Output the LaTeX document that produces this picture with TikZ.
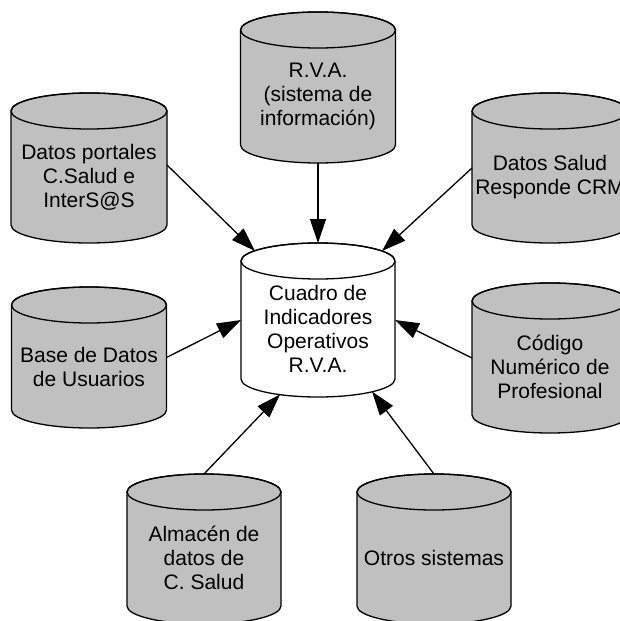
\documentclass[tikz,border=0pt]{standalone}
\usepackage{fontspec}
\setmainfont{Liberation Sans}
\usetikzlibrary{arrows.meta,calc}
\definecolor{dbgray}{RGB}{192,192,192}
\tikzset{
  cylline/.style={draw=black, line width=1.3pt},
  lbl/.style={align=center, font=\fontsize{21}{24}\selectfont, inner sep=0pt},
  anchorbox/.style={rectangle, inner sep=0pt, outer sep=0pt, draw=none},
  feed/.style={line width=1.3pt, -{Triangle[length=24pt,width=16pt]}},
}
% #1 name, #2 centre x, #3 top y, #4 width, #5 height, #6 fill, #7 text
\newcommand\dbcyl[7]{%
  \filldraw[cylline, fill=#6] ({#2-#4/2},{-(#3+18)}) -- ({#2-#4/2},{-(#3+#5-18)})
    arc[start angle=180, end angle=360, x radius={#4/2}, y radius=18]
    -- ({#2+#4/2},{-(#3+18)})
    arc[start angle=0, end angle=180, x radius={#4/2}, y radius=18] -- cycle;
  \draw[cylline] (#2,{-(#3+18)}) ellipse[x radius={#4/2}, y radius=18];
  \node[anchorbox, minimum width=#4pt, minimum height=#5pt] (#1) at (#2,{-(#3+#5/2)}) {};
  \node[lbl] (#1-t) at (#2,{-(#3+(#5+18)/2)}) {#7};
}
\begin{document}
\begin{tikzpicture}[x=1pt,y=1pt]
  \useasboundingbox (0,0) rectangle (620,-621);
  \clip (0,0) rectangle (620,-621);
  \dbcyl{tl}{89}{93}{156}{150}{dbgray}{Datos portales\\C.Salud e\\InterS@S}
  \dbcyl{top}{318}{12}{155}{151}{dbgray}{R.V.A.\\(sistema de\\información)}
  \dbcyl{tr}{550}{93}{156}{150}{dbgray}{Datos Salud\\Responde CRM}
  \dbcyl{lm}{89}{287}{155}{141}{dbgray}{Base de Datos\\de Usuarios}
  \dbcyl{c}{318}{243}{154}{154}{white}{Cuadro de\\Indicadores\\Operativos\\R.V.A.}
  \dbcyl{rm}{550}{283}{156}{150}{dbgray}{Código\\Numérico de\\Profesional}
  \dbcyl{bl}{204}{474}{154}{150}{dbgray}{Almacén de\\datos de\\C. Salud}
  \dbcyl{br}{434}{474}{154}{150}{dbgray}{Otros sistemas}
  \draw[feed] ([yshift=3pt]tl.east) -- ([xshift=14pt,yshift=-8pt]c.north west);
  \draw[feed] (top.south) -- (c.north);
  \draw[feed] (tr.west) -- ([xshift=-13pt,yshift=-8pt]c.north east);
  \draw[feed] (lm.east) -- (c.west);
  \draw[feed] (rm.west) -- (c.east);
  \draw[feed] (bl.north) -- ([xshift=-38pt,yshift=2.5pt]c.south);
  \draw[feed] (br.north) -- ([xshift=54pt,yshift=5.5pt]c.south);
\end{tikzpicture}
\end{document}
